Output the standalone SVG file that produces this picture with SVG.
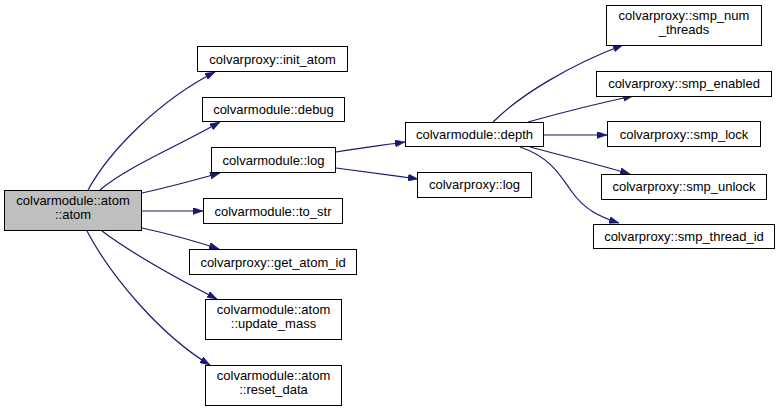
<svg xmlns="http://www.w3.org/2000/svg" width="781" height="412" viewBox="0 0 781 412">
<style>
.n rect{fill:#ffffff;stroke:#000000;stroke-width:1}
.n.main rect{fill:#bfbfbf}
.n text{font-family:"Liberation Sans",Arial,sans-serif;font-size:13px;fill:#000000;text-anchor:middle}
.e path{fill:none;stroke:#191970;stroke-width:1.2;marker-end:url(#ah)}
</style>
<defs>
<marker id="ah" viewBox="0 0 10 7" refX="10" refY="3.5" markerWidth="10" markerHeight="7" markerUnits="userSpaceOnUse" orient="auto">
<path d="M0,0 L10,3.5 L0,7 z" fill="#191970" stroke="#191970" stroke-width="0.5"/>
</marker>
</defs>
<rect width="781" height="412" fill="#ffffff"/>
<g id="edges" class="e">
<path d="M88,190 C110,150 160,100 215,72"/>
<path d="M100,190 C125,168 180,145 220,122"/>
<path d="M142,193 C165,188 195,180 220,173"/>
<path d="M142,211 L203,211"/>
<path d="M142,228 C165,233 195,241 219,249"/>
<path d="M102,231 C130,252 180,280 217,299"/>
<path d="M87,231 C110,275 160,335 210,365"/>
<path d="M336,152 C360,148 385,145 405,142"/>
<path d="M336,168 C360,171 390,175 418,179"/>
<path d="M493,122 C520,95 570,65 623,45"/>
<path d="M528,122 C560,113 600,103 633,96"/>
<path d="M544,135 L607,135"/>
<path d="M530,147 C560,155 600,165 630,174"/>
<path d="M520,147 C550,157 560,175 572,192 C585,210 600,217 619,223"/>
</g>
<g id="node_main" class="n main"><rect x="4.5" y="190.5" width="137" height="40"/><text x="73" y="205">colvarmodule::atom</text><text x="73" y="219">::atom</text></g>
<g id="node_init_atom" class="n"><rect x="197.5" y="46.5" width="150" height="25"/><text x="272.5" y="63.5">colvarproxy::init_atom</text></g>
<g id="node_debug" class="n"><rect x="202.5" y="97.5" width="142" height="24"/><text x="273.5" y="114">colvarmodule::debug</text></g>
<g id="node_log" class="n"><rect x="211.5" y="147.5" width="124" height="25"/><text x="273.5" y="164.5">colvarmodule::log</text></g>
<g id="node_to_str" class="n"><rect x="203.5" y="198.5" width="139" height="25"/><text x="273" y="215.5">colvarmodule::to_str</text></g>
<g id="node_get_atom_id" class="n"><rect x="189.5" y="249.5" width="167" height="25"/><text x="273" y="266.5">colvarproxy::get_atom_id</text></g>
<g id="node_update_mass" class="n"><rect x="205.5" y="299.5" width="136" height="40"/><text x="273.5" y="314">colvarmodule::atom</text><text x="273.5" y="328">::update_mass</text></g>
<g id="node_reset_data" class="n"><rect x="205.5" y="365.5" width="136" height="40"/><text x="273.5" y="380">colvarmodule::atom</text><text x="273.5" y="394">::reset_data</text></g>
<g id="node_depth" class="n"><rect x="405.5" y="122.5" width="138" height="24"/><text x="474.5" y="139">colvarmodule::depth</text></g>
<g id="node_proxy_log" class="n"><rect x="417.5" y="172.5" width="114" height="25"/><text x="474.5" y="189">colvarproxy::log</text></g>
<g id="node_smp_num_threads" class="n"><rect x="606.5" y="5.5" width="155" height="40"/><text x="684" y="20">colvarproxy::smp_num</text><text x="684" y="34">_threads</text></g>
<g id="node_smp_enabled" class="n"><rect x="596.5" y="71.5" width="175" height="25"/><text x="684" y="88">colvarproxy::smp_enabled</text></g>
<g id="node_smp_lock" class="n"><rect x="607.5" y="121.5" width="153" height="25"/><text x="684" y="138.5">colvarproxy::smp_lock</text></g>
<g id="node_smp_unlock" class="n"><rect x="601.5" y="174.5" width="165" height="25"/><text x="684" y="191">colvarproxy::smp_unlock</text></g>
<g id="node_smp_thread_id" class="n"><rect x="593.5" y="224.5" width="181" height="24"/><text x="684" y="240.5">colvarproxy::smp_thread_id</text></g>
</svg>
